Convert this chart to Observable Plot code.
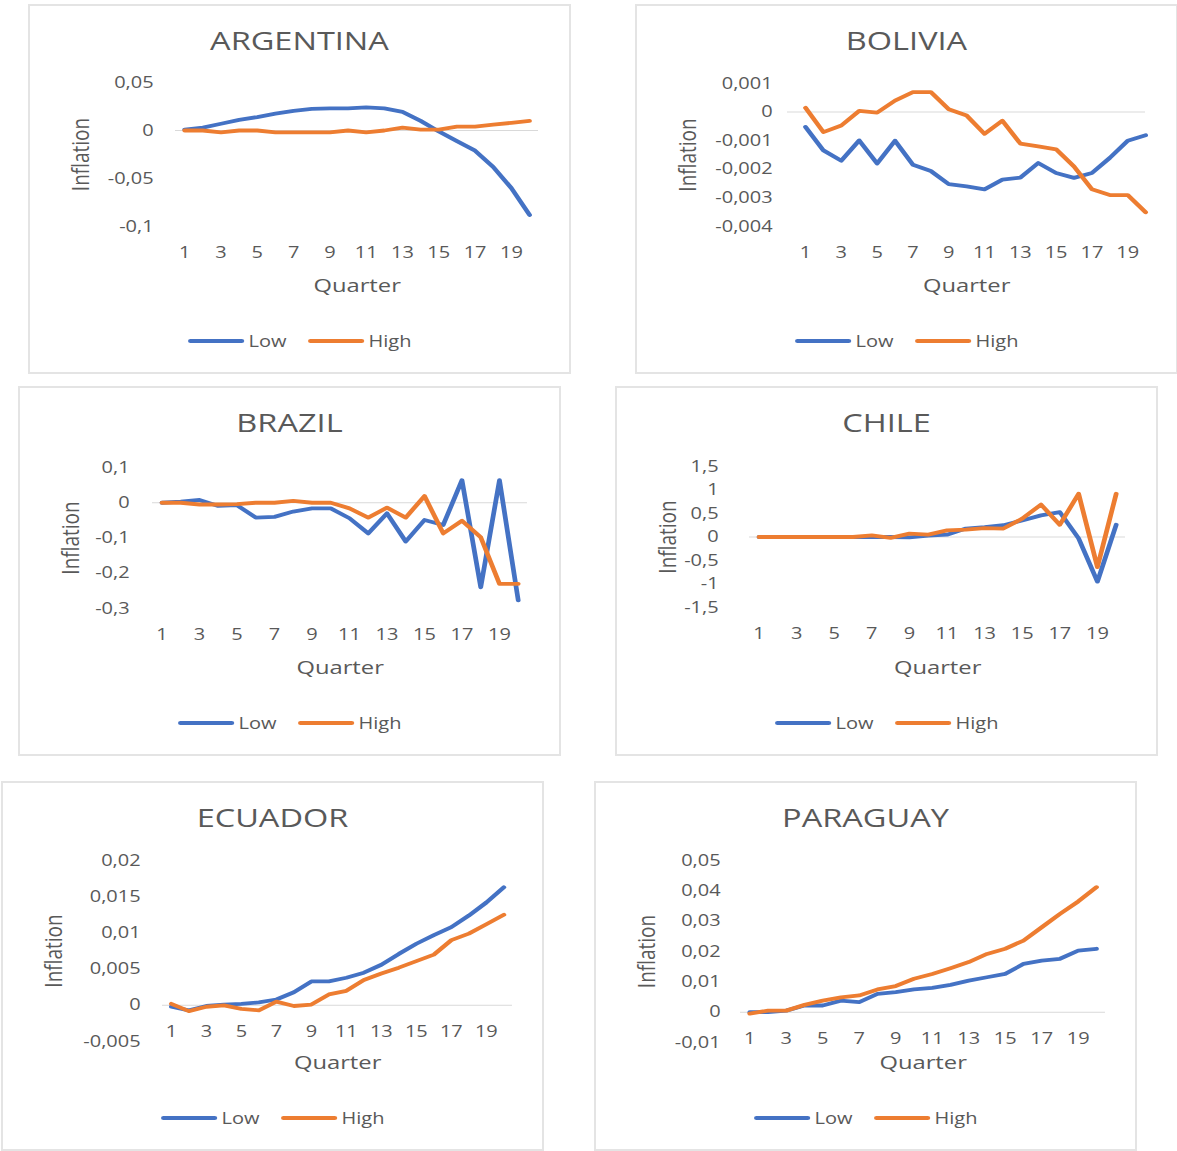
<!DOCTYPE html>
<html>
<head>
<meta charset="utf-8">
<script src="https://cdn.jsdelivr.net/npm/d3@7"></script>
<script src="https://cdn.jsdelivr.net/npm/@observablehq/plot@0.6"></script>
<style>
  body { margin: 0; background: #fff; font-family: "Open Sans", sans-serif; }
  #root { position: relative; width: 1177px; height: 1151px; overflow: hidden; background: #fff; }
  .panel { position: absolute; width: 543px; height: 370px; box-shadow: inset 0 0 0 2px #e4e4e4; }
  .inner { position: absolute; left: 0; top: 0; height: 370px; transform-origin: 0 0; }
  .title { position: absolute; left: 0; right: 0; text-align: center; font-size: 26px; line-height: 26px; color: #595959; white-space: nowrap; }
  .legend { position: absolute; left: 0; right: 0; height: 20px; display: flex; justify-content: center; align-items: center; font-size: 16px; line-height: 20px; color: #595959; white-space: nowrap; }
  .sw { display: inline-block; height: 3.8px; border-radius: 2px; }
  .inner svg { position: absolute; left: 0; top: 0; overflow: visible; }
</style>
</head>
<body>
<div id="root"></div>
<script>
// ---------- data ----------
const quarters = [1, 2, 3, 4, 5, 6, 7, 8, 9, 10, 11, 12, 13, 14, 15, 16, 17, 18, 19, 20];
const xTicks = [1, 3, 5, 7, 9, 11, 13, 15, 17, 19];
const seriesNames = ["Low", "High"];

const argLow  = [0.001, 0.003, 0.007, 0.011, 0.014, 0.0175, 0.0205, 0.0225, 0.023, 0.023, 0.024, 0.023, 0.0195, 0.010, -0.001, -0.011, -0.021, -0.038, -0.060, -0.088];
const argHigh = [0, 0, -0.002, 0, 0, -0.002, -0.002, -0.002, -0.002, 0, -0.002, 0, 0.003, 0.001, 0.001, 0.004, 0.004, 0.006, 0.008, 0.010];
const argTicks = [-0.1, -0.05, 0, 0.05];

const bolLow  = [-0.00052, -0.00134, -0.0017, -0.00099, -0.0018, -0.001, -0.00184, -0.00206, -0.00252, -0.0026, -0.0027, -0.00236, -0.00229, -0.00178, -0.00213, -0.0023, -0.00213, -0.0016, -0.001, -0.00081];
const bolHigh = [0.00015, -0.0007, -0.00047, 0.00004, -0.00002, 0.0004, 0.0007, 0.0007, 0.0001, -0.00012, -0.00076, -0.0003, -0.0011, -0.0012, -0.0013, -0.0019, -0.0027, -0.0029, -0.0029, -0.0035];
const bolTicks = [-0.004, -0.003, -0.002, -0.001, 0, 0.001];

const braLow  = [0, 0.003, 0.008, -0.009, -0.007, -0.042, -0.04, -0.025, -0.016, -0.016, -0.044, -0.087, -0.03, -0.11, -0.049, -0.063, 0.064, -0.24, 0.064, -0.277];
const braHigh = [0, 0, -0.005, -0.005, -0.004, 0, 0, 0.005, 0, 0, -0.016, -0.042, -0.014, -0.042, 0.019, -0.087, -0.051, -0.098, -0.23, -0.23];
const braTicks = [-0.3, -0.2, -0.1, 0, 0.1];

const chiLow  = [0, 0, 0, 0, 0, 0, 0, 0, -0.01, 0.03, 0.05, 0.18, 0.21, 0.25, 0.35, 0.46, 0.53, -0.03, -0.95, 0.26];
const chiHigh = [0, 0, 0, 0, 0, 0, 0.035, -0.02, 0.07, 0.05, 0.14, 0.155, 0.19, 0.18, 0.39, 0.69, 0.26, 0.92, -0.64, 0.92];
const chiTicks = [-1.5, -1, -0.5, 0, 0.5, 1, 1.5];

const ecuLow  = [-0.0002, -0.0007, -0.0001, 0.0001, 0.0002, 0.0004, 0.0008, 0.0018, 0.0033, 0.0033, 0.0038, 0.0045, 0.0056, 0.0071, 0.0085, 0.0097, 0.0108, 0.0124, 0.0142, 0.0163];
const ecuHigh = [0.0002, -0.0008, -0.0002, 0, -0.0005, -0.0007, 0.0005, -0.0001, 0.0001, 0.0015, 0.002, 0.0035, 0.0044, 0.0052, 0.0061, 0.007, 0.009, 0.0099, 0.0112, 0.0125];
const ecuTicks = [-0.005, 0, 0.005, 0.01, 0.015, 0.02];

const parLow  = [0, 0, 0.0005, 0.0022, 0.0022, 0.0038, 0.0033, 0.006, 0.0066, 0.0075, 0.008, 0.009, 0.0104, 0.0115, 0.0126, 0.0159, 0.017, 0.0176, 0.0203, 0.0209];
const parHigh = [-0.0005, 0.0005, 0.0005, 0.0024, 0.0038, 0.0049, 0.0055, 0.0075, 0.0086, 0.011, 0.0126, 0.0145, 0.0165, 0.0192, 0.0209, 0.0236, 0.028, 0.0324, 0.0365, 0.0412];
const parTicks = [-0.01, 0, 0.01, 0.02, 0.03, 0.04, 0.05];

// ---------- layout ----------
const S = 1.25;           // horizontal stretch of the original picture
const PW = 543, SVG_H = 300;
const colors = {Low: "#4472C4", High: "#ED7D31"};
const fmt = d => String(d).replace(".", ",");

const panels = [
  {name: "ARGENTINA", low: argLow, high: argHigh, ticks: argTicks, yDomain: [-0.1, 0.05],     xDomain: [0.5, 20.5], left: 28,  top: 4,   px: [147, 510], py: [78, 222], lab: 125, atZero: false},
  {name: "BOLIVIA",   low: bolLow, high: bolHigh, ticks: bolTicks, yDomain: [-0.004, 0.001],  xDomain: [0, 20],     left: 635, top: 4,   px: [152, 510], py: [79, 222], lab: 137, atZero: false},
  {name: "BRAZIL",    low: braLow, high: braHigh, ticks: braTicks, yDomain: [-0.3, 0.1],      xDomain: [0.5, 20.5], left: 18,  top: 386, px: [134, 509], py: [81, 222], lab: 111, atZero: false},
  {name: "CHILE",     low: chiLow, high: chiHigh, ticks: chiTicks, yDomain: [-1.5, 1.5],      xDomain: [0.5, 20.5], left: 615, top: 386, px: [134, 510], py: [80, 221], lab: 103, atZero: false},
  {name: "ECUADOR",   low: ecuLow, high: ecuHigh, ticks: ecuTicks, yDomain: [-0.005, 0.02],   xDomain: [0.5, 20.5], left: 1,   top: 781, px: [161, 511], py: [79, 260], lab: 139, atZero: true},
  {name: "PARAGUAY",  low: parLow, high: parHigh, ticks: parTicks, yDomain: [-0.01, 0.05],    xDomain: [0.5, 20.5], left: 594, top: 781, px: [146, 511], py: [79, 261], lab: 126, atZero: true}
];

const root = document.getElementById("root");

for (const cfg of panels) {
  const box = document.createElement("div");
  box.className = "panel";
  box.style.left = cfg.left + "px";
  box.style.top = cfg.top + "px";
  const inner = document.createElement("div");
  inner.className = "inner";
  inner.style.width = (PW / S) + "px";
  inner.style.transform = `scaleX(${S})`;
  box.appendChild(inner);

  const title = document.createElement("div");
  title.className = "title";
  title.style.top = "23px";
  title.textContent = cfg.name;
  inner.appendChild(title);

  const [d0, d1] = cfg.yDomain;
  const bottom = cfg.py[1];
  const axisBase = cfg.atZero ? bottom - (cfg.py[1] - cfg.py[0]) * (0 - d0) / (d1 - d0) : bottom;
  const labelY = axisBase + 26.5;

  const data = quarters.flatMap((q, i) => [
    {q, v: cfg.low[i], s: "Low"},
    {q, v: cfg.high[i], s: "High"}
  ]);

  const chart = Plot.plot({
    width: PW / S,
    height: SVG_H,
    marginLeft: cfg.px[0] / S,
    marginRight: (PW - cfg.px[1]) / S,
    marginTop: cfg.py[0],
    marginBottom: SVG_H - cfg.py[1],
    style: {fontFamily: '"Open Sans", sans-serif', fontSize: "16px", color: "#595959", background: "transparent", overflow: "visible"},
    x: {domain: cfg.xDomain},
    y: {domain: cfg.yDomain},
    color: {domain: seriesNames, range: [colors.Low, colors.High]},
    marks: [
      Plot.ruleY([0], {stroke: "#d9d9d9", strokeWidth: 1}),
      Plot.axisY(cfg.ticks, {tickSize: 0, tickPadding: (cfg.px[0] - cfg.lab) / S, tickFormat: fmt, label: null, fontSize: 16}),
      Plot.axisX(xTicks, {anchor: "bottom", tickSize: 0, tickPadding: labelY - bottom, lineAnchor: "middle", tickFormat: d => String(d), label: null, fontSize: 16}),
      Plot.lineY(data.filter(d => d.s === "Low"), {x: "q", y: "v", stroke: "s", strokeWidth: 3.8, strokeLinejoin: "round", strokeLinecap: "round"}),
      Plot.lineY(data.filter(d => d.s === "High"), {x: "q", y: "v", stroke: "s", strokeWidth: 3.8, strokeLinejoin: "round", strokeLinecap: "round"}),
      Plot.text(["Inflation"], {frameAnchor: "left", textAnchor: "middle", lineAnchor: "middle", dx: (53 - cfg.px[0]) / S, rotate: -90, fontSize: 19, fill: "#595959"}),
      Plot.text(["Quarter"], {frameAnchor: "bottom", textAnchor: "middle", lineAnchor: "middle", dy: 281 - bottom, fontSize: 19, fill: "#595959"})
    ]
  });
  inner.appendChild(chart);

  const legend = document.createElement("div");
  legend.className = "legend";
  legend.style.top = (337 - 10) + "px";
  seriesNames.forEach((name, i) => {
    const sw = document.createElement("span");
    sw.className = "sw";
    sw.style.width = (57 / S) + "px";
    sw.style.background = colors[name];
    sw.style.marginRight = (4 / S) + "px";
    if (i > 0) sw.style.marginLeft = (21 / S) + "px";
    const lab = document.createElement("span");
    lab.textContent = name;
    legend.appendChild(sw);
    legend.appendChild(lab);
  });
  inner.appendChild(legend);

  root.appendChild(box);
}
</script>
</body>
</html>
